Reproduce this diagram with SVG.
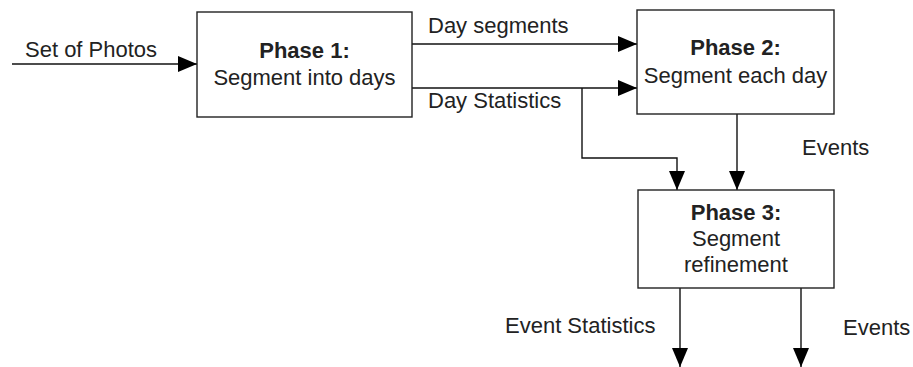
<svg xmlns="http://www.w3.org/2000/svg" width="913" height="367" viewBox="0 0 913 367">
  <style>
    .box { fill: #ffffff; stroke: #222222; stroke-width: 1.4; }
    .wire { fill: none; stroke: #111111; stroke-width: 1.4; }
    .lbl { font-family: "Liberation Sans", Arial, sans-serif; font-size: 22px; fill: #222222; }
    .ttl { font-weight: bold; }
    .mid { text-anchor: middle; }
  </style>
  <defs>
    <marker id="arrow" viewBox="0 0 19 16" refX="19" refY="8" markerWidth="19" markerHeight="16" markerUnits="userSpaceOnUse" orient="auto">
      <path d="M0,0 L19,8 L0,16 Z" fill="#000000"/>
    </marker>
  </defs>

  <rect width="913" height="367" fill="#ffffff"/>

  <!-- connectors -->
  <g id="connectors">
    <path class="wire" d="M12,64 H197" marker-end="url(#arrow)"/>
    <path class="wire" d="M412,44 H637" marker-end="url(#arrow)"/>
    <path class="wire" d="M412,88 H637" marker-end="url(#arrow)"/>
    <path class="wire" d="M582,88 V158 H677 V190" marker-end="url(#arrow)"/>
    <path class="wire" d="M737,114 V190" marker-end="url(#arrow)"/>
    <path class="wire" d="M680,288 V367" marker-end="url(#arrow)"/>
    <path class="wire" d="M801,288 V367" marker-end="url(#arrow)"/>
    <text class="lbl" x="25" y="57">Set of Photos</text>
    <text class="lbl" x="428" y="33">Day segments</text>
    <text class="lbl" x="428" y="108">Day Statistics</text>
    <text class="lbl" x="802" y="155">Events</text>
    <text class="lbl" x="505" y="333">Event Statistics</text>
    <text class="lbl" x="843" y="335">Events</text>
  </g>

  <!-- phase 1 -->
  <g id="phase1">
    <rect class="box" x="197" y="12" width="215" height="105"/>
    <text class="lbl ttl mid" x="304.5" y="58">Phase 1:</text>
    <text class="lbl mid" x="304.5" y="85">Segment into days</text>
  </g>

  <!-- phase 2 -->
  <g id="phase2">
    <rect class="box" x="637" y="10" width="197" height="104"/>
    <text class="lbl ttl mid" x="735.5" y="55">Phase 2:</text>
    <text class="lbl mid" x="735.5" y="83">Segment each day</text>
  </g>

  <!-- phase 3 -->
  <g id="phase3">
    <rect class="box" x="638" y="190" width="196" height="98"/>
    <text class="lbl ttl mid" x="736" y="220">Phase 3:</text>
    <text class="lbl mid" x="736" y="246">Segment</text>
    <text class="lbl mid" x="736" y="272">refinement</text>
  </g>
</svg>
